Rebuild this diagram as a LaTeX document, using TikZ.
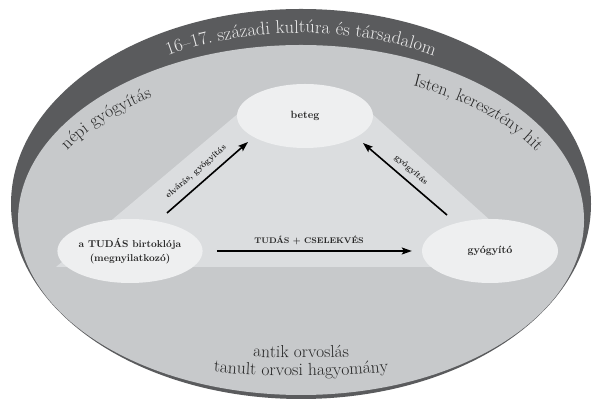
\documentclass[tikz,border=0pt]{standalone}
\usepackage{fontspec}
\usetikzlibrary{decorations.text,arrows.meta,shapes.geometric,calc}
\definecolor{bandgray}{HTML}{5A5B5D}
\definecolor{fieldgray}{HTML}{C7C9CB}
\definecolor{trigray}{HTML}{DBDDDF}
\definecolor{nodegray}{HTML}{EEEFF0}
\definecolor{inkgray}{HTML}{262626}
\definecolor{bandtext}{HTML}{EDEDED}
\begin{document}
\begin{tikzpicture}[x=1pt,y=1pt,
  oval/.style={ellipse, fill=nodegray, minimum width=136pt, minimum height=64pt, inner sep=0pt,
    font=\fontsize{10.5}{14}\selectfont\bfseries, text=inkgray, align=center},
  arr/.style={line width=1.6pt, -{Stealth[length=10pt,width=7pt,inset=2pt]}},
  lbl/.style={font=\fontsize{8.5}{9}\selectfont\bfseries, text=inkgray}
]
\useasboundingbox (0,0) rectangle (593,403);
\fill[white] (0,0) rectangle (593,403);
% outer band and field
\fill[bandgray] (301,199) ellipse[x radius=290pt, y radius=195pt];
\fill[fieldgray] (301,183) ellipse[x radius=283pt, y radius=175pt];
% triangle
\fill[trigray] (240,291) -- (370,291) -- (542,136) -- (56,136) -- cycle;
% nodes
\node[oval] (B) at (305,287) {beteg};
\node[oval, font=\fontsize{10}{14}\selectfont\bfseries] (L) at (130,152) {a TUDÁS birtoklója\\(megnyilatkozó)};
\node[oval] (R) at (490,152) {gyógyító};
% arrows
\draw[arr] ([shift={(37,38)}]L.center) -- ([shift={(-57,-26)}]B.center);
\draw[arr] ([shift={(-43,36)}]R.center) -- ([shift={(58,-27)}]B.center);
\draw[arr] ([xshift=14pt]L.east) -- ([xshift=-10pt]R.west);
% arrow labels
\node[lbl, rotate=41] (lA) at (196,231) {elvárás, gyógyítás};
\node[lbl, rotate=-41] (lB) at (411,233) {gyógyítás};
\node[lbl, font=\fontsize{8.2}{10}\selectfont\bfseries, anchor=base] (lC) at (309,159) {TUDÁS + CSELEKVÉS};
% curved texts
\path[decorate, decoration={text along path, text align=center, text color=bandtext,
  text={|\fontsize{18.4}{18.4}\selectfont|16–17. századi kultúra és társadalom}}]
  (70.6,284.5) arc[start angle=150, end angle=30, x radius=266pt, y radius=171pt];
\path[decorate, decoration={text along path, text align=center, text color=inkgray,
  text={|\fontsize{17.5}{17.5}\selectfont|népi gyógyítás}}]
  (45,221.3) arc[start angle=165, end angle=115, x radius=265pt, y radius=148pt];
\path[decorate, decoration={text along path, text align=center, text color=inkgray,
  text={|\fontsize{17.5}{17.5}\selectfont|Isten, keresztény hit}}]
  (391.6,322.1) arc[start angle=70, end angle=20, x radius=265pt, y radius=148pt];
\path[decorate, decoration={text along path, text align=center, text color=inkgray,
  text={|\fontsize{17.3}{17.3}\selectfont|antik orvoslás}}]
  (111,63.5) arc[start angle=240, end angle=300, x radius=380pt, y radius=138pt];
\path[decorate, decoration={text along path, text align=center, text color=inkgray,
  text={|\fontsize{17.5}{17.5}\selectfont|tanult orvosi hagyomány}}]
  (111,47.9) arc[start angle=240, end angle=300, x radius=380pt, y radius=156pt];
\end{tikzpicture}
\end{document}
